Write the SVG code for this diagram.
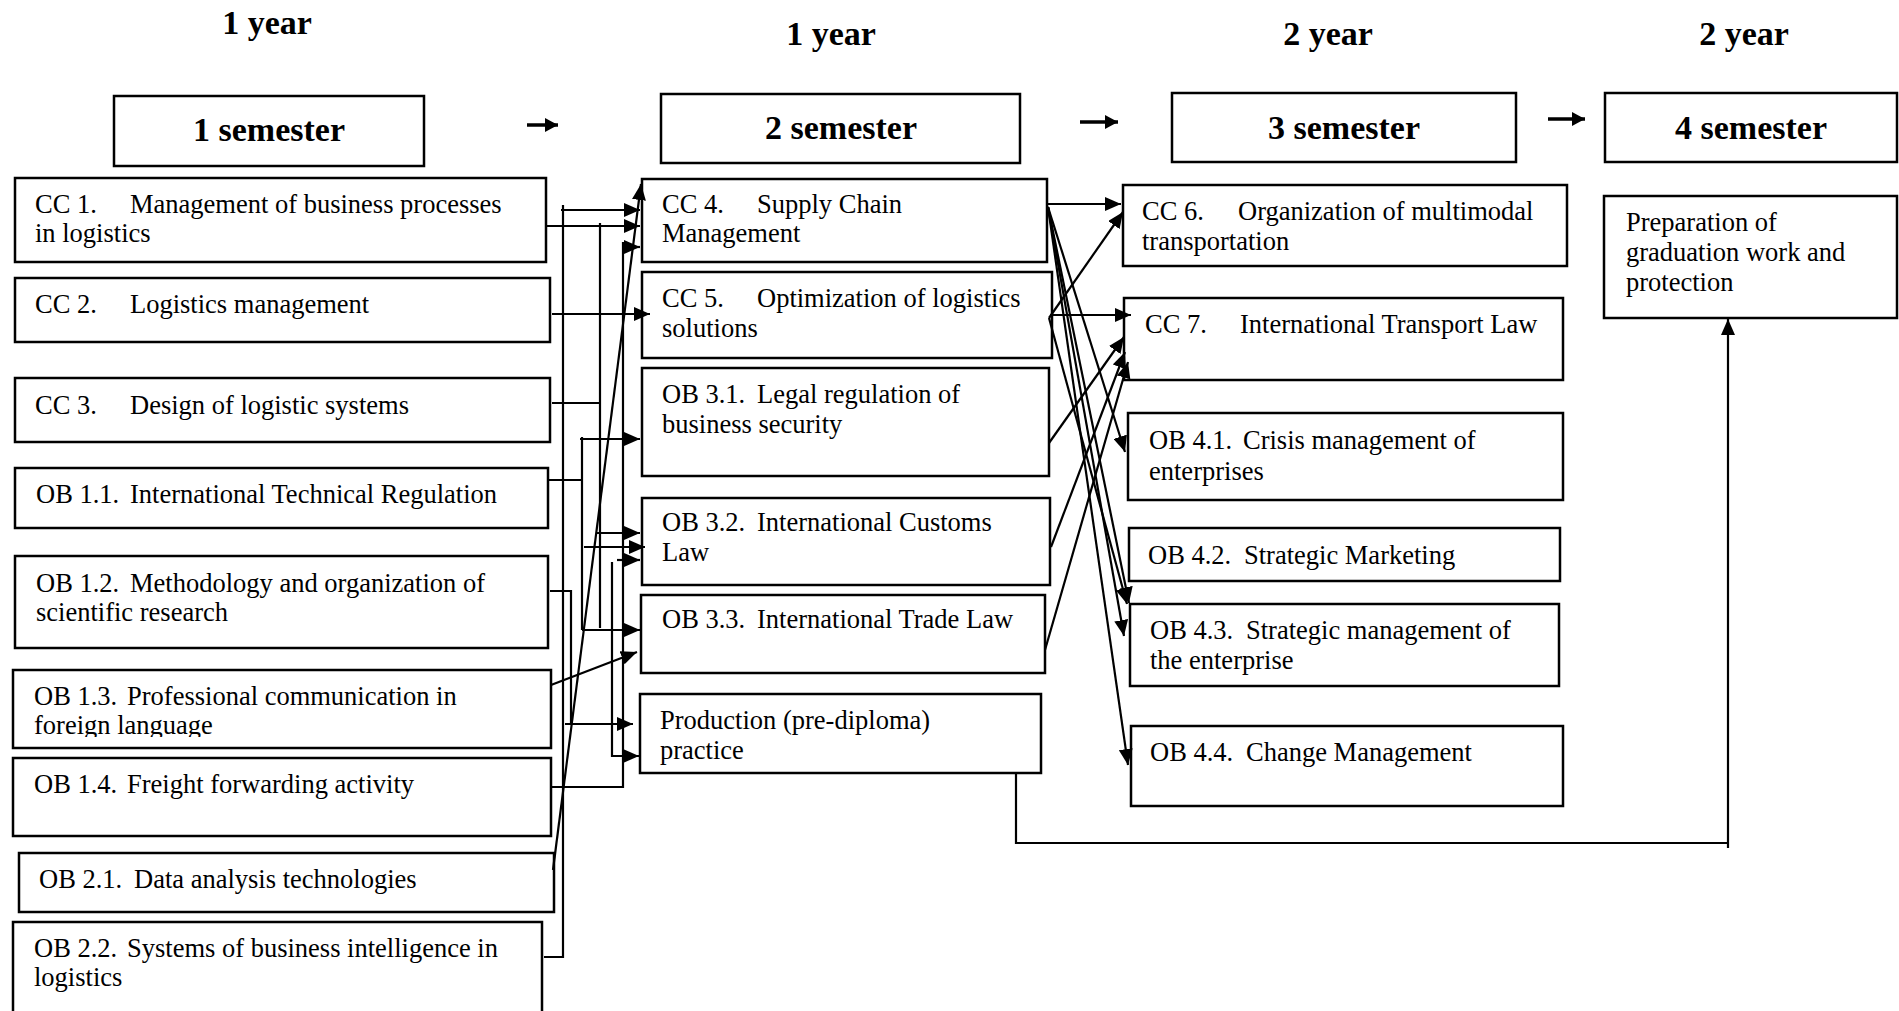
<svg xmlns="http://www.w3.org/2000/svg" width="1899" height="1011" viewBox="0 0 1899 1011">
<style>
.box{fill:#fff;stroke:#000;stroke-width:2.5}
.t{font-family:"Liberation Serif","Times New Roman",serif;font-size:26.5px;fill:#000}
.h{font-family:"Liberation Serif","Times New Roman",serif;font-weight:bold;font-size:34px;fill:#000;text-anchor:middle}
.c{fill:none;stroke:#000;stroke-width:2.2}
.a{marker-end:url(#ah)}
.s{fill:none;stroke:#000;stroke-width:3.5;marker-end:url(#sh)}
</style>
<defs>
<marker id="ah" markerUnits="userSpaceOnUse" markerWidth="18" markerHeight="14" refX="16" refY="7" orient="auto"><path d="M0,0 L16,7 L0,14 z" fill="#000"/></marker>
<marker id="sh" markerUnits="userSpaceOnUse" markerWidth="14" markerHeight="14" refX="13" refY="7" orient="auto"><path d="M0,0 L13,7 L0,14 z" fill="#000"/></marker>
<clipPath id="clip13"><rect x="13" y="670" width="538" height="67"/></clipPath>
</defs>
<rect width="1899" height="1011" fill="#fff"/>

<g id="headers">
<text class="h" x="267" y="34">1 year</text>
<text class="h" x="831" y="45">1 year</text>
<text class="h" x="1328" y="45">2 year</text>
<text class="h" x="1744" y="45">2 year</text>
</g>

<g id="sem1"><rect class="box" x="114" y="96" width="310" height="70"/><text class="h" x="269" y="141">1 semester</text></g>
<g id="sem2"><rect class="box" x="661" y="94" width="359" height="69"/><text class="h" x="841" y="139">2 semester</text></g>
<g id="sem3"><rect class="box" x="1172" y="93" width="344" height="69"/><text class="h" x="1344" y="139">3 semester</text></g>
<g id="sem4"><rect class="box" x="1605" y="93" width="292" height="69"/><text class="h" x="1751" y="139">4 semester</text></g>

<g id="cc1"><rect class="box" x="15" y="178" width="531" height="84"/><text class="t" y="213"><tspan x="35">CC 1.</tspan><tspan x="130">Management of business processes</tspan></text><text class="t" x="35" y="242">in logistics</text></g>
<g id="cc2"><rect class="box" x="15" y="278" width="535" height="64"/><text class="t" y="313"><tspan x="35">CC 2.</tspan><tspan x="130">Logistics management</tspan></text></g>
<g id="cc3"><rect class="box" x="15" y="378" width="535" height="64"/><text class="t" y="414"><tspan x="35">CC 3.</tspan><tspan x="130">Design of logistic systems</tspan></text></g>
<g id="ob11"><rect class="box" x="15" y="468" width="533" height="60"/><text class="t" y="503"><tspan x="36">OB 1.1.</tspan><tspan x="130">International Technical Regulation</tspan></text></g>
<g id="ob12"><rect class="box" x="15" y="556" width="533" height="92"/><text class="t" y="592"><tspan x="36">OB 1.2.</tspan><tspan x="130">Methodology and organization of</tspan></text><text class="t" x="36" y="621">scientific research</text></g>
<g id="ob13"><rect class="box" x="13" y="670" width="538" height="78"/><text class="t" y="705"><tspan x="34">OB 1.3.</tspan><tspan x="127">Professional communication in</tspan></text><text class="t" x="34" y="734" clip-path="url(#clip13)">foreign language</text></g>
<g id="ob14"><rect class="box" x="13" y="758" width="538" height="78"/><text class="t" y="793"><tspan x="34">OB 1.4.</tspan><tspan x="127">Freight forwarding activity</tspan></text></g>
<g id="ob21"><rect class="box" x="19" y="853" width="535" height="59"/><text class="t" y="888"><tspan x="39">OB 2.1.</tspan><tspan x="134">Data analysis technologies</tspan></text></g>
<g id="ob22"><rect class="box" x="13" y="922" width="529" height="100"/><text class="t" y="957"><tspan x="34">OB 2.2.</tspan><tspan x="127">Systems of business intelligence in</tspan></text><text class="t" x="34" y="986">logistics</text></g>

<g id="cc4"><rect class="box" x="642" y="179" width="405" height="83"/><text class="t" y="213"><tspan x="662">CC 4.</tspan><tspan x="757">Supply Chain</tspan></text><text class="t" x="662" y="242">Management</text></g>
<g id="cc5"><rect class="box" x="642" y="272" width="410" height="86"/><text class="t" y="307"><tspan x="662">CC 5.</tspan><tspan x="757">Optimization of logistics</tspan></text><text class="t" x="662" y="337">solutions</text></g>
<g id="ob31"><rect class="box" x="642" y="368" width="407" height="108"/><text class="t" y="403"><tspan x="662">OB 3.1.</tspan><tspan x="757">Legal regulation of</tspan></text><text class="t" x="662" y="433">business security</text></g>
<g id="ob32"><rect class="box" x="642" y="498" width="408" height="87"/><text class="t" y="531"><tspan x="662">OB 3.2.</tspan><tspan x="757">International Customs</tspan></text><text class="t" x="662" y="561">Law</text></g>
<g id="ob33"><rect class="box" x="641" y="595" width="404" height="78"/><text class="t" y="628"><tspan x="662">OB 3.3.</tspan><tspan x="757">International Trade Law</tspan></text></g>
<g id="prod"><rect class="box" x="640" y="694" width="401" height="79"/><text class="t" x="660" y="729">Production (pre-diploma)</text><text class="t" x="660" y="759">practice</text></g>

<g id="cc6"><rect class="box" x="1123" y="185" width="444" height="81"/><text class="t" y="220"><tspan x="1142">CC 6.</tspan><tspan x="1238">Organization of multimodal</tspan></text><text class="t" x="1142" y="250">transportation</text></g>
<g id="cc7"><rect class="box" x="1124" y="298" width="439" height="82"/><text class="t" y="333"><tspan x="1145">CC 7.</tspan><tspan x="1240">International Transport Law</tspan></text></g>
<g id="ob41"><rect class="box" x="1128" y="413" width="435" height="87"/><text class="t" y="449"><tspan x="1149">OB 4.1.</tspan><tspan x="1243">Crisis management of</tspan></text><text class="t" x="1149" y="480">enterprises</text></g>
<g id="ob42"><rect class="box" x="1129" y="528" width="431" height="53"/><text class="t" y="564"><tspan x="1148">OB 4.2.</tspan><tspan x="1244">Strategic Marketing</tspan></text></g>
<g id="ob43"><rect class="box" x="1130" y="604" width="429" height="82"/><text class="t" y="639"><tspan x="1150">OB 4.3.</tspan><tspan x="1246">Strategic management of</tspan></text><text class="t" x="1150" y="669">the enterprise</text></g>
<g id="ob44"><rect class="box" x="1131" y="726" width="432" height="80"/><text class="t" y="761"><tspan x="1150">OB 4.4.</tspan><tspan x="1246">Change Management</tspan></text></g>
<g id="prep"><rect class="box" x="1604" y="196" width="293" height="122"/><text class="t" x="1626" y="231">Preparation of</text><text class="t" x="1626" y="261">graduation work and</text><text class="t" x="1626" y="291">protection</text></g>

<g id="connectors">
<path class="s" d="M527,125 H558"/>
<path class="s" d="M1080,122 H1118"/>
<path class="s" d="M1548,119 H1585"/>

<path class="c a" d="M547,226 H640"/>
<path class="c" d="M544,957 H563 V205"/>
<path class="c a" d="M561,210 H640"/>
<path class="c" d="M552,403 H600 M600,223 V628"/>
<path class="c a" d="M552,314 H650"/>
<path class="c" d="M551,787 H623 V242"/>
<path class="c a" d="M623,247 H640"/>
<path class="c" d="M548,480 H582 M582,437 V630"/>
<path class="c a" d="M580,439 H640"/>
<path class="c a" d="M584,547 H645"/>
<path class="c a" d="M582,630 H640"/>
<path class="c a" d="M597,533 H640"/>
<path class="c" d="M550,591 H571 V724"/>
<path class="c a" d="M565,724 H633"/>
<path class="c a" d="M617,560 H640"/>
<path class="c a" d="M612,562 V756 H639"/>
<path class="c a" d="M551,685 L637,652"/>
<path class="c a" d="M553,870 L641,184"/>

<path class="c a" d="M1047,204 H1121"/>
<path class="c a" d="M1050,315 H1131"/>
<path class="c a" d="M1049,318 L1123,212"/>
<path class="c a" d="M1049,443 L1124,337"/>
<path class="c a" d="M1051,547 L1125,352"/>
<path class="c a" d="M1045,650 L1128,362"/>
<path class="c a" d="M1048,207 L1125,452"/>
<path class="c a" d="M1048,207 L1129,603"/>
<path class="c a" d="M1048,207 L1124,636"/>
<path class="c a" d="M1048,207 L1128,765"/>
<path class="c a" d="M1049,318 L1127,604"/>

<path class="c" d="M1016,773 V843 H1728"/>
<path class="c a" d="M1728,848 V319"/>
</g>
</svg>
